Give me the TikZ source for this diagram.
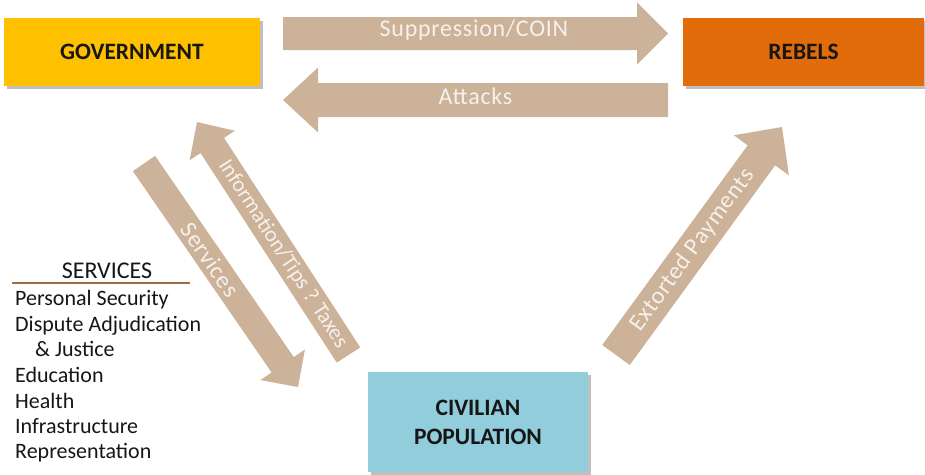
\documentclass[tikz,border=0pt]{standalone}
\usepackage{fontspec}
\setmainfont{Carlito}
\usetikzlibrary{calc,shadows}
\definecolor{govfill}{RGB}{255,192,0}
\definecolor{rebfill}{RGB}{227,108,10}
\definecolor{civfill}{RGB}{146,205,220}
\definecolor{arrowtan}{RGB}{204,178,152}
\definecolor{arrowink}{RGB}{246,241,236}
\definecolor{ink}{RGB}{22,22,22}
\definecolor{rulebrown}{RGB}{160,110,62}
% block arrow: #1 name, #2 tail, #3 tip, #4 half shaft, #5 half head, #6 head length
\newcommand\tanarrow[6]{%
  \coordinate (#1b) at ($(#3)!#6!(#2)$);
  \fill[arrowtan] ($(#2)!#4!90:(#3)$) -- ($(#1b)!#4!90:(#3)$) -- ($(#1b)!#5!90:(#3)$) -- (#3)
    -- ($(#1b)!#5!-90:(#3)$) -- ($(#1b)!#4!-90:(#3)$) -- ($(#2)!#4!-90:(#3)$) -- cycle;
}
\begin{document}
\begin{tikzpicture}[x=1pt,y=-1pt,
  box/.style={inner sep=0pt, align=center, text=ink,
    font=\fontsize{23.5}{29}\selectfont\bfseries,
    drop shadow={shadow xshift=2.5pt, shadow yshift=-2.5pt, fill=black, opacity=0.25}},
  arrowtext/.style={inner sep=0pt, text=arrowink, font=\fontsize{24}{28}\selectfont\addfontfeatures{LetterSpace=3}},
  item/.style={inner sep=0pt, anchor=base west, text=ink, font=\fontsize{22}{26}\selectfont}]
\useasboundingbox (0,0) rectangle (925,474);

% boxes
\node[box, fill=govfill, minimum width=256pt, minimum height=68pt] (gov) at (132,52) {GOVERNMENT};
\node[box, fill=rebfill, minimum width=241pt, minimum height=68pt] (reb) at (803.5,52) {REBELS};
\node[box, fill=civfill, minimum width=220pt, minimum height=100pt] (civ) at (478,422) {CIVILIAN\\POPULATION};

% arrow end points
\coordinate (supT) at (283,33.5);  \coordinate (supH) at (668,33.5);
\coordinate (attT) at (668,100);   \coordinate (attH) at (283,100);
\coordinate (serT) at (144,163.5); \coordinate (serH) at (298,387);
\coordinate (infT) at (348.5,355); \coordinate (infH) at (197,122);
\coordinate (extT) at (616,355);   \coordinate (extH) at (782,127);

\tanarrow{sup}{supT}{supH}{16.5pt}{31pt}{31pt}
\tanarrow{att}{attT}{attH}{17pt}{32.5pt}{35pt}
\tanarrow{ser}{serT}{serH}{13.5pt}{27pt}{27pt}
\tanarrow{inf}{infT}{infH}{14pt}{27pt}{28pt}
\tanarrow{ext}{extT}{extH}{17pt}{34pt}{35pt}

% arrow labels
\path (supT) -- (supH) node[arrowtext, pos=0.496, yshift=3pt] (suptxt) {Suppression/COIN};
\path (attT) -- (attH) node[arrowtext, pos=0.5, yshift=4pt] (atttxt) {Attacks};
\path (serT) -- (serH) node[arrowtext, pos=0.43, sloped] (sertxt) {Services};
\path (infT) -- (infH) node[arrowtext, pos=0.433, sloped, font=\fontsize{22}{26}\selectfont] (inftxt) {Information/Tips ? Taxes};
\path (extT) -- (extH) node[arrowtext, pos=0.46, sloped] (exttxt) {Extorted Payments};

% services list
\node[item, anchor=base, font=\fontsize{24}{28}\selectfont] (svh) at (107,278) {SERVICES};
\coordinate (ruleL) at (12,283); \coordinate (ruleR) at (190,283);
\draw[rulebrown, line width=1.8pt] (ruleL) -- (ruleR);
\node[item] (i1) at (15,305) {Personal Security};
\node[item] (i2) at (15,331) {Dispute Adjudication};
\node[item] (i3) at (35,356.5) {\& Justice};
\node[item] (i4) at (15,382.5) {Education};
\node[item] (i5) at (15,408) {Health};
\node[item] (i6) at (15,433) {Infrastructure};
\node[item] (i7) at (15,458) {Representation};
\end{tikzpicture}
\end{document}
